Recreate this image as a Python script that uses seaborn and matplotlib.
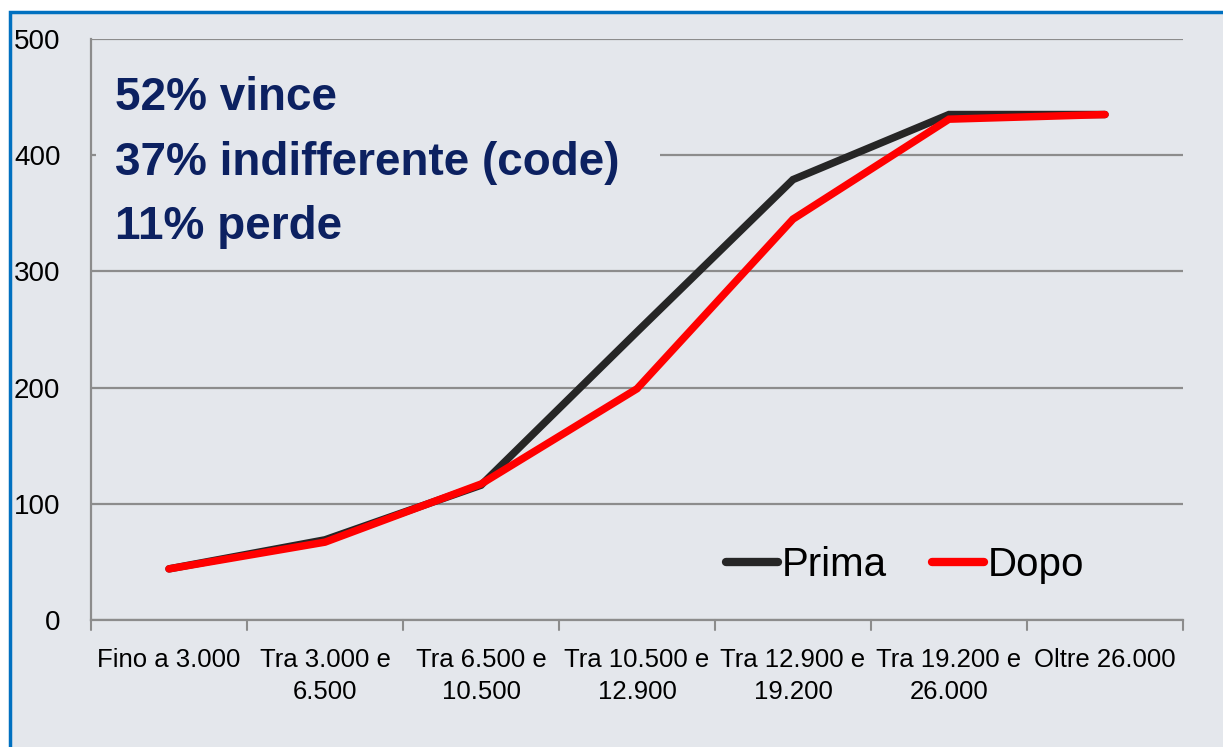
import matplotlib
matplotlib.use("Agg")
import matplotlib.pyplot as plt
from matplotlib.patches import Rectangle
import seaborn as sns
import pandas as pd

# data
categories = [
    "Fino a 3.000",
    "Tra 3.000 e\n6.500",
    "Tra 6.500 e\n10.500",
    "Tra 10.500 e\n12.900",
    "Tra 12.900 e\n19.200",
    "Tra 19.200 e\n26.000",
    "Oltre 26.000",
]
prima = [44, 69, 116, 248, 379, 435, 435]
dopo = [44, 67, 117, 199, 345, 431, 435]
series_names = ["Prima", "Dopo"]
y_ticks = [0, 100, 200, 300, 400, 500]
summary = "52% vince\n37% indifferente (code)\n11% perde"

bg = "#E4E7EC"
grid_col = "#8C8C8C"
navy = "#0C2161"

sns.set_theme(style="white")
plt.rcParams["font.family"] = ["Liberation Sans Narrow", "Liberation Sans", "DejaVu Sans"]

df = pd.DataFrame({
    "cat": list(range(len(categories))) * 2,
    "value": prima + dopo,
    "serie": [series_names[0]] * len(prima) + [series_names[1]] * len(dopo),
})

fig = plt.figure(figsize=(12.23, 7.47), dpi=100, facecolor="white")
# panel background with blue frame (top/left visible only)
frame = Rectangle((10 / 1223, -0.1), 1.2, 1.1 - 12 / 747, transform=fig.transFigure,
                  facecolor=bg, edgecolor="#0070C0", linewidth=2.5, zorder=-5)
fig.add_artist(frame)

ax = fig.add_axes([91 / 1223, 127 / 747, 1092 / 1223, 581 / 747])
ax.set_zorder(2)
ax.patch.set_visible(False)

sns.lineplot(data=df, x="cat", y="value", hue="serie",
             palette={"Prima": "#262626", "Dopo": "#FF0000"},
             linewidth=5.4, ax=ax, legend=True, zorder=3)
for ln in ax.get_lines():
    ln.set_solid_capstyle("round")
    ln.set_solid_joinstyle("miter")

ax.set_xlim(-0.5, len(categories) - 0.5)
ax.set_ylim(0, 500)
ax.set_yticks(y_ticks)
ax.set_yticklabels([str(t) for t in y_ticks], fontsize=20, color="black")
ax.set_xticks(range(len(categories)))
ax.set_xticklabels(categories, fontsize=18.5, color="black", linespacing=1.45)
ax.tick_params(axis="x", length=0, pad=20)
ax.tick_params(axis="y", length=7, width=1.5, color=grid_col, direction="out", pad=15)
# boundary ticks between categories
for b in [i - 0.5 for i in range(len(categories) + 1)]:
    ax.plot([b, b], [0, -0.018], transform=ax.get_xaxis_transform(), color=grid_col,
            lw=1.5, clip_on=False, zorder=2)

ax.yaxis.grid(True, color=grid_col, linewidth=1.6)
ax.set_axisbelow(True)
for s in ["top", "right"]:
    ax.spines[s].set_visible(False)
for s in ["left", "bottom"]:
    ax.spines[s].set_color(grid_col)
    ax.spines[s].set_linewidth(1.6)
ax.set_xlabel("")
ax.set_ylabel("")

# background block behind the summary text (hides the gridline under it)
ax.add_patch(Rectangle((0.005, 0.66), 0.516, 0.22, transform=ax.transAxes,
                       facecolor=bg, edgecolor="none", zorder=1.5))
ax.text(0.022, 0.936, summary, transform=ax.transAxes, ha="left", va="top",
        fontsize=33, fontweight="bold", color=navy, linespacing=1.6, zorder=4)

handles, labels = ax.get_legend_handles_labels()
leg = ax.legend(handles, labels, loc="center right", bbox_to_anchor=(0.943, 0.095),
                ncol=2, frameon=False, fontsize=29, handlelength=1.3,
                handletextpad=0.1, columnspacing=1.1, labelcolor="black")
for h in leg.get_lines():
    h.set_linewidth(6)
    h.set_solid_capstyle("round")

fig.savefig("out.png", dpi=100, facecolor="white")
